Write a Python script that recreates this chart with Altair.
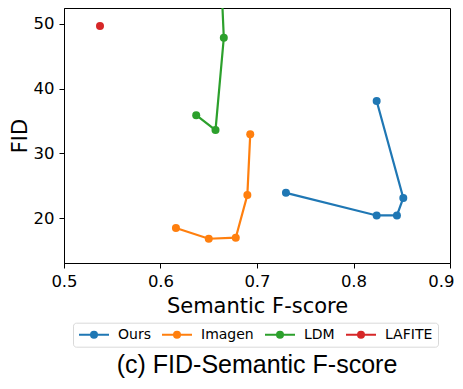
import altair as alt
import pandas as pd

series = ["Ours", "Imagen", "LDM", "LAFITE"]
colors = ["#1f77b4", "#ff7f0e", "#2ca02c", "#d62728"]

ours_x = [0.824, 0.8516, 0.845, 0.824, 0.730]
ours_y = [38.1, 23.1, 20.4, 20.4, 23.9]
imagen_x = [0.616, 0.650, 0.678, 0.690, 0.693]
imagen_y = [18.46, 16.8, 16.96, 23.55, 32.96]
ldm_x = [0.637, 0.657, 0.6656, 0.662]
ldm_y = [35.9, 33.6, 47.87, 60.0]
lafite_x = [0.5373]
lafite_y = [49.7]

x_ticks = [0.5, 0.6, 0.7, 0.8, 0.9]
y_ticks = [20, 30, 40, 50]

rows = []
for name, xs, ys in zip(series, [ours_x, imagen_x, ldm_x, lafite_x],
                        [ours_y, imagen_y, ldm_y, lafite_y]):
    for i, (xv, yv) in enumerate(zip(xs, ys)):
        rows.append({"method": name, "x": xv, "y": yv, "order": i})
df = pd.DataFrame(rows)

sym = "M-5,0L5,0M1,0A1,1,0,1,1,-1,0A1,1,0,1,1,1,0Z"

color = alt.Color(
    "method:N",
    scale=alt.Scale(domain=series, range=colors),
    legend=alt.Legend(
        title=None, orient="none", legendX=9, legendY=314.7,
        direction="horizontal", columns=4,
        symbolType=sym, symbolSize=36, symbolStrokeWidth=2,
        symbolOffset=9, labelOffset=17,
        labelFont="DejaVu Sans", labelFontSize=14, labelColor="black",
        columnPadding=7, padding=5, strokeColor="#d9d9d9",
        cornerRadius=3, fillColor="white",
    ),
)

base = alt.Chart(df).encode(
    x=alt.X("x:Q", scale=alt.Scale(domain=[0.5, 0.9], nice=False, zero=False),
            axis=alt.Axis(values=x_ticks, format=".1f", title="Semantic F-score",
                          labelPadding=5, titlePadding=6, labelFlush=False,
                          labelAlign={"condition": {"test": "datum.value > 0.85", "value": "right"},
                                      "value": "center"},
                          labelOffset={"condition": {"test": "datum.value > 0.85", "value": 4},
                                       "value": 0})),
    y=alt.Y("y:Q", scale=alt.Scale(domain=[13.05, 52.47], nice=False, zero=False),
            axis=alt.Axis(values=y_ticks, format="d", title="FID",
                          labelPadding=5, titlePadding=3, labelFlush=False)),
    color=color,
    order="order:Q",
)

lines = base.mark_line(strokeWidth=2.2, clip=True)
pts = base.mark_circle(size=64, opacity=1, clip=True)

chart = alt.layer(lines, pts).properties(
    width=386, height=255,
    title=alt.TitleParams("(c) FID-Semantic F-score", orient="bottom",
                          font="Liberation Sans", fontSize=25, fontWeight="normal",
                          anchor="middle", color="black", offset=6),
    autosize=alt.AutoSizeParams(type="none"),
    padding={"left": 56, "top": 0, "right": 5, "bottom": 118},
).configure_axis(
    labelFont="DejaVu Sans", labelFontSize=16.5, labelColor="black",
    titleFont="DejaVu Sans", titleFontSize=21, titleFontWeight="normal",
    titleColor="black", domainColor="black", tickColor="black",
    tickSize=5, grid=False,
).configure_view(stroke="black", strokeWidth=1)

chart.save("out.html", embed_options={"renderer": "svg", "actions": False})
